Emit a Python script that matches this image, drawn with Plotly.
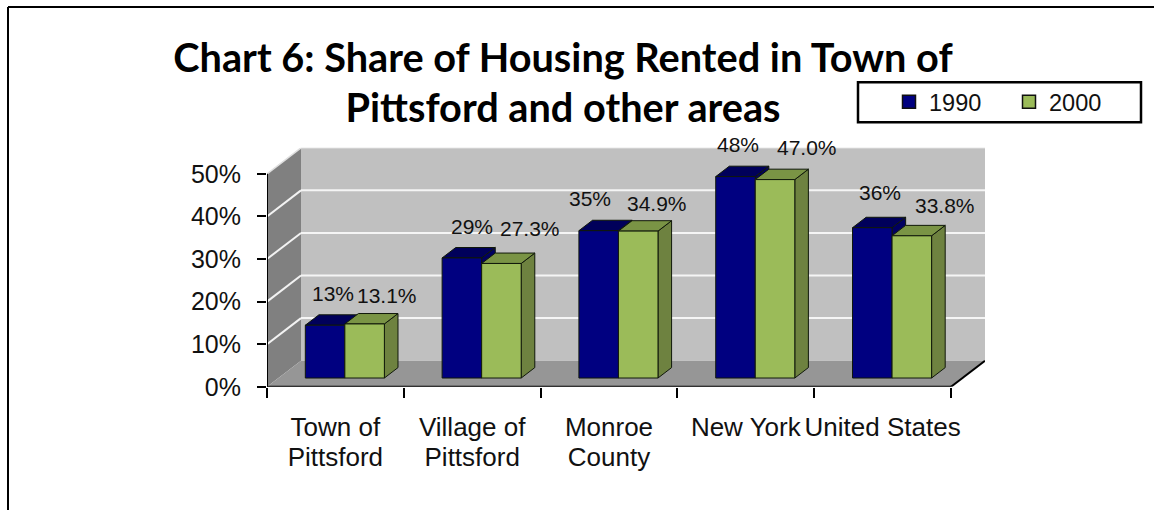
import plotly.graph_objects as go

categories = ["Town of<br>Pittsford", "Village of<br>Pittsford", "Monroe<br>County", "New York", "United States"]
series_names = ["1990", "2000"]
values_1990 = [12.8, 28.6, 35.0, 47.7, 35.7]
values_2000 = [13.1, 27.3, 34.9, 47.0, 33.8]
y_ticks = [0, 10, 20, 30, 40, 50]
title_lines = ["Chart 6: Share of Housing Rented in Town of", "Pittsford and other areas"]

W, H = 1154, 510           # picture size: fractions below are taken against it
LAYOUT_H = 525             # the page comes out about 3% shorter than the height asked for
X0, X5 = 267.0, 951.0      # front axis pixels
Y0, Y50 = 386.0, 173.5
DX, DY = 34.0, 26.0        # full depth in pixels
CAT_W = (X5 - X0) / 5
PX_PER = (Y0 - Y50) / 50
DEPTH_X = DX / CAT_W
DEPTH_V = DY / PX_PER
XMAX = 5 + DEPTH_X
VMAX = 50 + DEPTH_V

NAVY, NAVY_TOP, NAVY_SIDE = "#000080", "#00005A", "#000060"
GREEN, GREEN_TOP, GREEN_SIDE = "#9BBB59", "#7A9445", "#6E8240"
EDGE = "#10180A"


def proj(x, v, d):
    return x + d * DEPTH_X, v + d * DEPTH_V


def poly(points, fill, line=None, width=1):
    xs, ys = zip(*points)
    return go.Scatter(
        x=list(xs) + [xs[0]], y=list(ys) + [ys[0]], mode="lines", fill="toself",
        fillcolor=fill, line=dict(color=line or fill, width=width if line else 0),
        hoverinfo="skip", showlegend=False,
    )


def seg(a, b, color, width):
    return go.Scatter(x=[a[0], b[0]], y=[a[1], b[1]], mode="lines",
                      line=dict(color=color, width=width), hoverinfo="skip", showlegend=False)


fig = go.Figure()
# walls and floor
fig.add_trace(poly([proj(0, 0, 0), proj(0, 0, 1), proj(0, 50, 1), proj(0, 50, 0)], "#808080"))
fig.add_trace(poly([proj(0, 0, 1), proj(5, 0, 1), proj(5, 50, 1), proj(0, 50, 1)], "#C0C0C0"))
fig.add_trace(poly([proj(0, 0, 0), proj(5, 0, 0), proj(5, 0, 1), proj(0, 0, 1)], "#969696"))
for t in y_ticks[1:5]:
    fig.add_trace(seg(proj(0, t, 0), proj(0, t, 1), "#F2F2F2", 2))
    fig.add_trace(seg(proj(0, t, 1), proj(5, t, 1), "#F5F5F5", 2))
fig.add_trace(seg(proj(0, 50, 0), proj(0, 50, 1), "#E0E0E0", 1.5))
fig.add_trace(seg(proj(0, 50, 1), proj(5, 50, 1), "#E0E0E0", 1.5))
# axis lines
fig.add_trace(seg((0, 0), (0, 50), "#000000", 2))
fig.add_trace(seg((0, 0), (5, 0), "#000000", 2))
fig.add_trace(seg(proj(5, 0, 0), proj(5, 0, 1), "#000000", 2))

# bars
BAR_START = 0.213
BAR_W = 0.289
D_FRONT, D_BACK = 0.27, 0.67
BASE = 0.4


def bar(x, val, front, top, side):
    a, b = x, x + BAR_W
    f = [proj(a, BASE, D_FRONT), proj(b, BASE, D_FRONT), proj(b, val, D_FRONT), proj(a, val, D_FRONT)]
    t = [proj(a, val, D_FRONT), proj(b, val, D_FRONT), proj(b, val, D_BACK), proj(a, val, D_BACK)]
    s = [proj(b, BASE, D_FRONT), proj(b, BASE, D_BACK), proj(b, val, D_BACK), proj(b, val, D_FRONT)]
    fig.add_trace(poly(s, side, EDGE))
    fig.add_trace(poly(t, top, EDGE))
    fig.add_trace(poly(f, front, EDGE))


for i in range(5):
    bar(i + BAR_START, values_1990[i], NAVY, NAVY_TOP, NAVY_SIDE)
    bar(i + BAR_START + BAR_W, values_2000[i], GREEN, GREEN_TOP, GREEN_SIDE)

# legend entries
for name, col in zip(series_names, [NAVY, GREEN]):
    fig.add_trace(go.Scatter(x=[None], y=[None], mode="markers", name=name,
                             marker=dict(symbol="square", size=13, color=col,
                                         line=dict(color="#101010", width=1.5))))

# data labels, hand-placed in the source, so each has its own nudge
nudge_1990 = [(8, 32), (10, 31), (-9, 32), (3, 32), (8, 35)]
nudge_2000 = [(22, 28), (29, 35), (19, 28), (32, 32), (33, 30)]
annotations = []
for i in range(5):
    for vals, off, nudge, fmt in [(values_1990, 0.5, nudge_1990, "{:.0f}%"),
                                  (values_2000, 1.5, nudge_2000, "{:.1f}%")]:
        x, y = proj(i + BAR_START + off * BAR_W, vals[i], D_FRONT)
        annotations.append(dict(x=x, y=y, xref="x", yref="y", text=fmt.format(vals[i]),
                                showarrow=False, xshift=nudge[i][0], yshift=nudge[i][1],
                                yanchor="middle", font=dict(size=21, color="#111111")))

shapes = [
    dict(type="line", xref="paper", yref="paper", x0=8 / W, x1=1, y0=1 - 7 / H, y1=1 - 7 / H,
         line=dict(color="#000", width=2)),
    dict(type="line", xref="paper", yref="paper", x0=8 / W, x1=8 / W, y0=1 - 7 / H, y1=0,
         line=dict(color="#000", width=2)),
    dict(type="rect", xref="paper", yref="paper", x0=858 / W, x1=1141 / W, y0=1 - 122 / H, y1=1 - 82 / H,
         line=dict(color="#000", width=2.5), fillcolor="#FFF", layer="below"),
]

fig.update_layout(
    width=W, height=LAYOUT_H, autosize=False,
    margin=dict(l=0, r=0, t=0, b=0),
    paper_bgcolor="#FFFFFF", plot_bgcolor="rgba(0,0,0,0)",
    font=dict(family="Liberation Sans", color="#111111"),
    title=dict(
        text=f'<span style="font-size:39.7px"><b>{title_lines[0]}</b><br><b>{title_lines[1]}</b></span>',
        font=dict(family="Lato", size=38.5, color="#000"),
        x=563 / W, xanchor="center", y=1 - 70 / H, yanchor="top", pad=dict(t=0, b=0)),
    showlegend=True,
    legend=dict(orientation="h", x=889 / W, y=1 - 79.7 / H, xanchor="left", yanchor="top",
                borderwidth=0, bgcolor="rgba(0,0,0,0)",
                font=dict(size=23.5), entrywidth=75, entrywidthmode="pixels",
                itemwidth=30, traceorder="normal"),
    annotations=annotations, shapes=shapes,
    xaxis=dict(domain=[X0 / W, (X5 + DX) / W], range=[0, XMAX], showgrid=False, zeroline=False,
               showline=False, tickmode="array", tickvals=[0, 1, 2, 3, 4, 5], ticktext=[""] * 6,
               ticks="outside", ticklen=10, tickwidth=2, tickcolor="#000", fixedrange=True),
    yaxis=dict(domain=[1 - Y0 / H, 1 - (Y50 - DY) / H], range=[0, VMAX], showgrid=False, zeroline=False,
               showline=False, tickmode="array", tickvals=y_ticks,
               ticktext=[f"{t}%" for t in y_ticks], ticks="outside", ticklen=9, tickwidth=2,
               tickcolor="#000", tickfont=dict(size=25), ticklabelstandoff=11, fixedrange=True),
    # second x axis carries the category names at the category centres
    xaxis2=dict(domain=[X0 / W, (X5 + DX) / W], range=[0, XMAX], anchor="y", overlaying="x",
                side="bottom", showgrid=False, zeroline=False, showline=False,
                tickmode="array", tickvals=[i + 0.5 for i in range(5)],
                ticktext=[f'<span style="font-size:26px">{c}</span>' for c in categories],
                ticks="outside", ticklen=21, tickcolor="rgba(0,0,0,0)", tickfont=dict(size=23), fixedrange=True),
)
fig.add_trace(go.Scatter(x=[0.5], y=[0], xaxis="x2", mode="markers", marker=dict(opacity=0),
                         hoverinfo="skip", showlegend=False))

fig.write_html("out.html", config={"displayModeBar": False},
               post_script="document.body.style.margin='0';document.documentElement.style.overflow='hidden';")
